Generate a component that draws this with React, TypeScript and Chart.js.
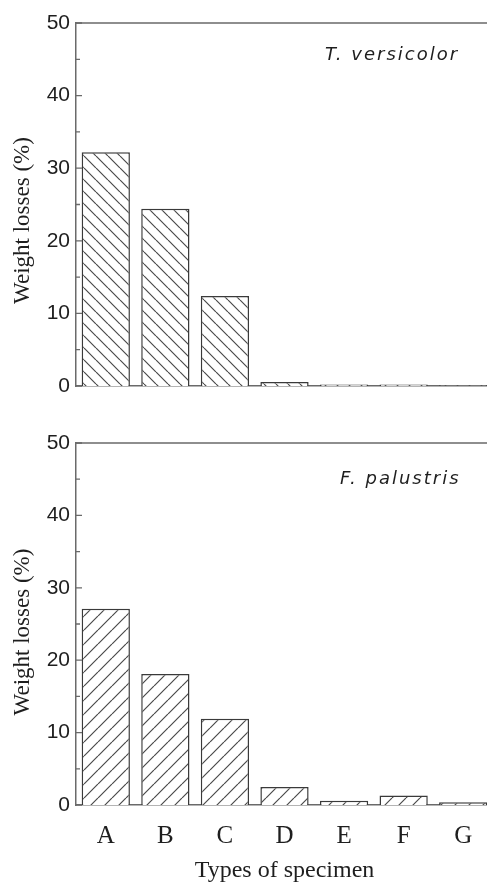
import React, { useEffect, useRef } from "react";
import { Chart, registerables } from "chart.js";

Chart.register(...registerables);

const categories = ["A", "B", "C", "D", "E", "F", "G"];
const versicolorLosses = [32.2, 24.4, 12.4, 0.55, 0.2, 0.2, 0.1];
const palustrisLosses = [27.1, 18.1, 11.9, 2.5, 0.6, 1.3, 0.37];
const majorTicks = [0, 10, 20, 30, 40, 50];
const minorTicks = [5, 15, 25, 35, 45];
const yTitle = "Weight losses (%)";
const xTitle = "Types of specimen";
const topSpecies = "T. versicolor";
const bottomSpecies = "F. palustris";

const AXIS = "#6a6a6a";
const BAR_EDGE = "#3a3a3a";
const HATCH = "#4a4a4a";
const TEXT = "#1e1e1e";

function makeHatch(size: number, forward: boolean): CanvasPattern | string {
  const c = document.createElement("canvas");
  c.width = size;
  c.height = size;
  const g = c.getContext("2d");
  if (!g) return "#fff";
  g.fillStyle = "#ffffff";
  g.fillRect(0, 0, size, size);
  g.strokeStyle = HATCH;
  g.lineWidth = 1.2;
  g.beginPath();
  for (const x0 of [-size, 0, size]) {
    if (forward) {
      g.moveTo(x0, size);
      g.lineTo(x0 + size, 0);
    } else {
      g.moveTo(x0, 0);
      g.lineTo(x0 + size, size);
    }
  }
  g.stroke();
  const p = g.createPattern(c, "repeat");
  return p || "#fff";
}

type DecorCfg = {
  species: string;
  speciesX: number;
  speciesY: number;
  titleOffset: number;
  xTitleY?: number;
};

function decorPlugin(cfg: DecorCfg) {
  return {
    id: "decor",
    afterDraw(chart: any) {
      const { ctx, chartArea: a, scales } = chart;
      const ys = scales.y;
      ctx.save();
      ctx.strokeStyle = AXIS;
      ctx.lineWidth = 1.5;
      ctx.beginPath();
      ctx.moveTo(a.left, a.top);
      ctx.lineTo(a.right, a.top);
      ctx.lineTo(a.right, a.bottom);
      ctx.stroke();
      ctx.lineWidth = 1.3;
      ctx.beginPath();
      for (const v of majorTicks) {
        const py = ys.getPixelForValue(v);
        ctx.moveTo(a.left, py);
        ctx.lineTo(a.left + 6, py);
      }
      for (const v of minorTicks) {
        const py = ys.getPixelForValue(v);
        ctx.moveTo(a.left, py);
        ctx.lineTo(a.left + 4, py);
      }
      ctx.stroke();

      // species label
      ctx.fillStyle = TEXT;
      ctx.font = 'italic 18px "DejaVu Sans"';
      try {
        (ctx as any).letterSpacing = "2px";
      } catch (e) {}
      ctx.textAlign = "left";
      ctx.textBaseline = "alphabetic";
      ctx.fillText(cfg.species, cfg.speciesX, cfg.speciesY);
      try {
        (ctx as any).letterSpacing = "0px";
      } catch (e) {}

      // y title
      ctx.font = '23px "Liberation Serif"';
      ctx.textAlign = "center";
      ctx.textBaseline = "middle";
      ctx.save();
      ctx.translate(23, (a.top + a.bottom) / 2 + cfg.titleOffset);
      ctx.rotate(-Math.PI / 2);
      ctx.fillText(yTitle, 0, 0);
      ctx.restore();

      if (cfg.xTitleY !== undefined) {
        ctx.font = '24px "Liberation Serif"';
        ctx.textAlign = "center";
        ctx.textBaseline = "alphabetic";
        ctx.fillText(xTitle, (a.left + a.right) / 2, cfg.xTitleY);
      }
      ctx.restore();
    },
  };
}

function buildChart(
  canvas: HTMLCanvasElement,
  values: number[],
  pattern: CanvasPattern | string,
  xHeight: number,
  showX: boolean,
  cfg: DecorCfg
) {
  return new Chart(canvas, {
    type: "bar",
    data: {
      labels: categories,
      datasets: [
        {
          data: values,
          backgroundColor: pattern as any,
          borderColor: BAR_EDGE,
          borderWidth: 1.5,
          barPercentage: 0.81,
          categoryPercentage: 1,
        },
      ],
    },
    options: {
      responsive: false,
      maintainAspectRatio: false,
      devicePixelRatio: 1,
      animation: false,
      layout: { padding: { top: 23, left: 0, right: 0, bottom: 0 } },
      plugins: { legend: { display: false }, tooltip: { enabled: false } },
      scales: {
        x: {
          type: "category",
          grid: { display: false, drawTicks: false },
          border: { display: true, color: AXIS, width: 1.5 },
          ticks: {
            display: showX,
            padding: 16,
            color: TEXT,
            font: { family: '"Liberation Serif"', size: 25 },
            maxRotation: 0,
            autoSkip: false,
          },
          afterFit: (s: any) => {
            s.height = xHeight;
          },
        },
        y: {
          min: 0,
          max: 50,
          grid: { display: false, drawTicks: false },
          border: { display: true, color: AXIS, width: 1.5 },
          ticks: {
            stepSize: 10,
            padding: 6,
            color: TEXT,
            font: { family: '"Liberation Sans"', size: 21 },
          },
          afterFit: (s: any) => {
            s.width = 76;
          },
        },
      },
    },
    plugins: [decorPlugin(cfg) as any],
  });
}

export default function App() {
  const topRef = useRef<HTMLCanvasElement>(null);
  const botRef = useRef<HTMLCanvasElement>(null);

  useEffect(() => {
    if (!topRef.current || !botRef.current) return;
    const c1 = buildChart(topRef.current, versicolorLosses, makeHatch(12, false), 34, false, {
      species: topSpecies,
      speciesX: 325,
      speciesY: 60,
      titleOffset: 16,
    });
    const c2 = buildChart(botRef.current, palustrisLosses, makeHatch(14, true), 78, true, {
      species: bottomSpecies,
      speciesX: 340,
      speciesY: 64,
      titleOffset: 8,
      xTitleY: 457,
    });
    return () => {
      c1.destroy();
      c2.destroy();
    };
  }, []);

  return (
    <div
      style={{
        position: "fixed",
        left: 0,
        top: 0,
        width: 487,
        height: 883,
        overflow: "hidden",
        background: "#fff",
      }}
    >
      <canvas
        ref={topRef}
        width={493}
        height={420}
        style={{ position: "absolute", left: 0, top: 0, display: "block" }}
      />
      <canvas
        ref={botRef}
        width={493}
        height={463}
        style={{ position: "absolute", left: 0, top: 420, display: "block" }}
      />
    </div>
  );
}
